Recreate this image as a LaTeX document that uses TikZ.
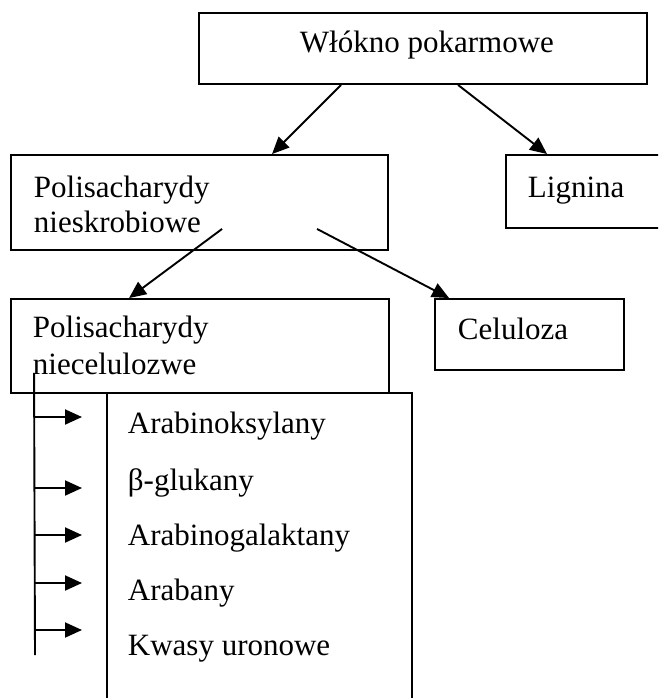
\documentclass[tikz,border=0pt]{standalone}
\usepackage{fontspec}
\setmainfont{Liberation Serif}
\usetikzlibrary{arrows.meta,calc}

\begin{document}
\begin{tikzpicture}[x=1pt,y=-1pt,line width=1.9pt,font=\fontsize{31}{37}\selectfont]
        \tikzstyle{box}=[draw,rectangle,inner sep=0pt]
        \tikzstyle{txt}=[anchor=base west,inner sep=0pt]
        \tikzstyle{arr}=[-{Triangle[length=17pt,width=15pt]}]
       \clip (0,0) rectangle (658,698);
       \begin{scope}
         % boxes
         \node [box,minimum width=448pt,minimum height=71pt] (fibre) at (423,48.5) {};
         \node [box,minimum width=377pt,minimum height=95pt] (nsp) at (199.5,202.5) {};
         \node [box,minimum width=174pt,minimum height=73pt] (lignin) at (593,191.5) {};
         \node [box,minimum width=378pt,minimum height=94pt] (ncp) at (200,346) {};
         \node [box,minimum width=189pt,minimum height=71pt] (cellulose) at (529.5,334.5) {};
         \node [box,minimum width=305pt,minimum height=327pt] (list) at (259.5,556.5) {};
         % texts
         \node [txt] (fibreT) at (299,53) {Włókno pokarmowe};
         \node [txt] (nspT1) at (33,197) {Polisacharydy};
         \node [txt] (nspT2) at (33,232) {nieskrobiowe};
         \node [txt] (ligninT) at (527,197) {Lignina};
         \node [txt] (ncpT1) at (32,337) {Polisacharydy};
         \node [txt] (ncpT2) at (32,374) {niecelulozwe};
         \node [txt] (celluloseT) at (457,339) {Celuloza};
         \node [txt] (i1) at (127,433) {Arabinoksylany};
         \node [txt] (i2) at (127,490) {β-glukany};
         \node [txt] (i3) at (127,545) {Arabinogalaktany};
         \node [txt] (i4) at (127,600) {Arabany};
         \node [txt] (i5) at (127,655) {Kwasy uronowe};
         % connectors
         \draw[arr] ($(fibre.south west)+(143,0)$) -- ($(nsp.north west)+(262,0)$);
         \draw[arr] ($(fibre.south west)+(260,0)$) -- ($(lignin.north west)+(42,0)$);
         \draw[arr] ($(nsp.south west)+(212,-22)$) -- ($(ncp.north west)+(119,0)$);
         \draw[arr] ($(nsp.south west)+(307,-22)$) -- ($(cellulose.north west)+(15,0)$);
         % branch to the list
         \coordinate (spineTop) at ($(ncp.south west)+(24,-21)$);
         \coordinate (spineEnd) at (35,655);
         \draw (spineTop) -- (spineEnd);
         \foreach \y [count=\i] in {417,488,535,583,630}
           {
             \coordinate (s\i) at (35,\y);
             \coordinate (t\i) at (82,\y);
             \draw[arr] (s\i) -- (t\i);
           }
        \end{scope}
      \end{tikzpicture}
\end{document}
